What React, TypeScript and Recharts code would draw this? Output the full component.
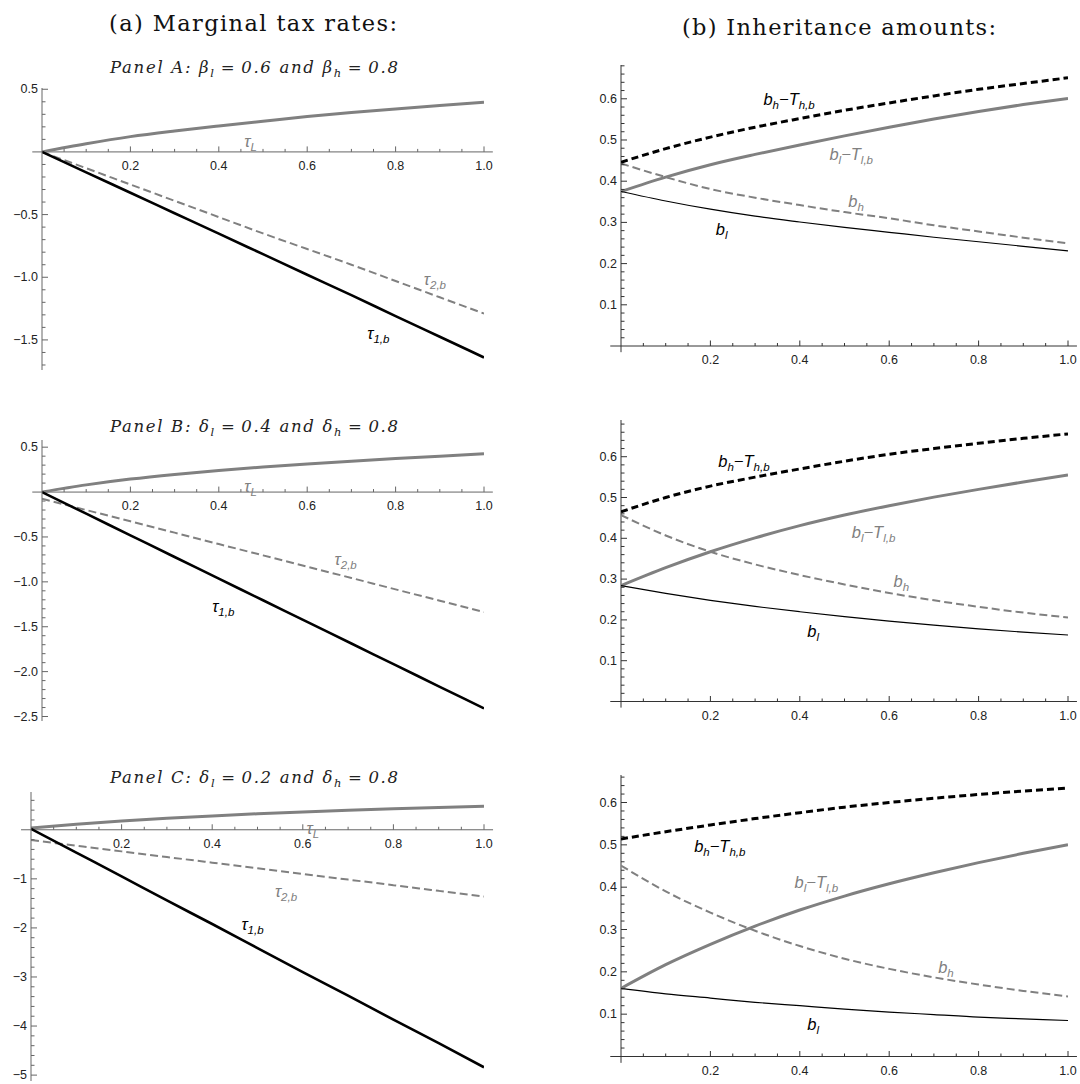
import React from 'react';
import { LineChart, Line, XAxis, YAxis, ReferenceLine, ReferenceDot } from 'recharts';

// shared grid of the parameter on the horizontal axis
const xGrid = [0, 0.1, 0.2, 0.3, 0.4, 0.5, 0.6, 0.7, 0.8, 0.9, 1.0];

// (a) marginal tax rates, panel A
const tauL_A = [0, 0.065, 0.122, 0.167, 0.207, 0.245, 0.282, 0.314, 0.343, 0.371, 0.397];
const tau1_A = [0, -0.163, -0.326, -0.489, -0.652, -0.816, -0.98, -1.143, -1.31, -1.475, -1.64];
const tau2_A = [0, -0.13, -0.26, -0.39, -0.52, -0.65, -0.775, -0.9, -1.03, -1.16, -1.29];

// panel B
const tauL_B = [0, 0.08, 0.145, 0.197, 0.241, 0.279, 0.313, 0.344, 0.373, 0.4, 0.427];
const tau1_B = [0, -0.241, -0.482, -0.723, -0.964, -1.205, -1.446, -1.687, -1.928, -2.169, -2.41];
const tau2_B = [-0.074, -0.2, -0.326, -0.452, -0.579, -0.705, -0.831, -0.957, -1.084, -1.21, -1.336];

// panel C
const tauL_C = [0.035, 0.115, 0.18, 0.235, 0.283, 0.326, 0.364, 0.398, 0.428, 0.455, 0.48];
const tau1_C = [0.02, -0.465, -0.95, -1.44, -1.92, -2.41, -2.9, -3.38, -3.87, -4.35, -4.84];
const tau2_C = [-0.21, -0.325, -0.44, -0.555, -0.67, -0.785, -0.9, -1.015, -1.13, -1.245, -1.36];

// (b) inheritance amounts, panel A
const bhT_A = [0.446, 0.479, 0.507, 0.531, 0.552, 0.572, 0.59, 0.607, 0.623, 0.637, 0.651];
const blT_A = [0.375, 0.41, 0.44, 0.465, 0.488, 0.51, 0.531, 0.551, 0.569, 0.586, 0.601];
const bh_A = [0.443, 0.41, 0.381, 0.36, 0.342, 0.325, 0.31, 0.293, 0.278, 0.263, 0.249];
const bl_A = [0.375, 0.352, 0.332, 0.315, 0.301, 0.288, 0.276, 0.264, 0.253, 0.242, 0.231];

// panel B
const bhT_B = [0.465, 0.5, 0.528, 0.55, 0.57, 0.589, 0.606, 0.62, 0.633, 0.645, 0.656];
const blT_B = [0.284, 0.328, 0.367, 0.401, 0.431, 0.457, 0.48, 0.501, 0.52, 0.538, 0.555];
const bh_B = [0.457, 0.407, 0.367, 0.336, 0.31, 0.287, 0.266, 0.248, 0.232, 0.218, 0.206];
const bl_B = [0.284, 0.265, 0.248, 0.233, 0.22, 0.208, 0.197, 0.187, 0.178, 0.17, 0.163];

// panel C
const bhT_C = [0.514, 0.531, 0.547, 0.562, 0.576, 0.589, 0.6, 0.61, 0.619, 0.627, 0.634];
const blT_C = [0.161, 0.217, 0.265, 0.308, 0.346, 0.379, 0.408, 0.434, 0.458, 0.48, 0.5];
const bh_C = [0.451, 0.39, 0.34, 0.297, 0.261, 0.231, 0.207, 0.187, 0.17, 0.155, 0.142];
const bl_C = [0.161, 0.148, 0.138, 0.128, 0.12, 0.112, 0.105, 0.099, 0.093, 0.089, 0.085];

// tick labels
const xMajor = [0.2, 0.4, 0.6, 0.8, 1.0];
const rateMajorAB = [-2.5, -2, -1.5, -1, -0.5, 0.5];
const rateMajorC = [-5, -4, -3, -2, -1];
const amountMajor = [0.1, 0.2, 0.3, 0.4, 0.5, 0.6];

const GRAY = '#808080';
const AXIS_L = '#666';
const AXIS_R = '#333';
const SANS = '"Liberation Sans", Arial, sans-serif';
const SERIF = '"DejaVu Serif", serif';

const steps = (from: number, to: number, step: number) => {
  const out: number[] = [];
  const n = Math.round((to - from) / step);
  for (let i = 0; i <= n; i++) out.push(+(from + i * step).toFixed(4));
  return out;
};
const xMinor = steps(0.05, 1, 0.05);
const isMajor = (v: number, majors: number[]) => majors.some((m) => Math.abs(m - v) < 1e-6);
const fmt = (v: number, digits: number) => (v < 0 ? '\u2212' : '') + Math.abs(v).toFixed(digits);

type Part = [string, boolean];
type Note = { x: number; y: number; parts: Part[]; color: string };

const tau = (sub: string): Part[] => [['τ', false], [sub, true]];
const bhT: Part[] = [['b', false], ['h', true], ['\u2212T', false], ['h,b', true]];
const blT: Part[] = [['b', false], ['l', true], ['\u2212T', false], ['l,b', true]];
const bh: Part[] = [['b', false], ['h', true]];
const bl: Part[] = [['b', false], ['l', true]];

function CurveLabel({ cx, cy, parts, color }: { cx: number; cy: number; parts: Part[]; color: string }) {
  const size = 16.5;
  let sub = false;
  return (
    <text x={cx} y={cy + 5} textAnchor="middle" fontFamily={SANS} fontStyle="italic" fontSize={size} fill={color}>
      {parts.map(([t, isSub], i) => {
        const dy = isSub === sub ? 0 : isSub ? 4 : -4;
        sub = isSub;
        return (
          <tspan key={i} dy={dy} fontSize={isSub ? 11.5 : size}>
            {t}
          </tspan>
        );
      })}
    </text>
  );
}

function LeftTick(p: any) {
  const v = p.payload.value;
  const major = isMajor(v, p.majors);
  return (
    <g>
      <line x1={p.x} y1={p.y} x2={p.x + (major ? 6 : 3.5)} y2={p.y} stroke={p.color} strokeWidth={1} />
      {major && (
        <text x={p.x - 4} y={p.y + 4} textAnchor="end" fontFamily={SANS} fontSize={12.5} fill="#222">
          {fmt(v, p.digits)}
        </text>
      )}
    </g>
  );
}

function BottomTick(p: any) {
  const v = p.payload.value;
  const major = isMajor(v, xMajor);
  return (
    <g>
      <line x1={p.x} y1={p.y} x2={p.x} y2={p.y - (major ? 5.5 : 3)} stroke={p.color} strokeWidth={1} />
      {major && (
        <text x={p.x} y={p.y + 18} textAnchor="middle" fontFamily={SANS} fontSize={12.5} fill="#222">
          {v.toFixed(1)}
        </text>
      )}
    </g>
  );
}

function noteDots(notes: Note[]) {
  return notes.map((n, i) => (
    <ReferenceDot
      key={'n' + i}
      x={n.x}
      y={n.y}
      r={0}
      ifOverflow="visible"
      shape={(p: any) => <CurveLabel cx={p.cx} cy={p.cy} parts={n.parts} color={n.color} />}
    />
  ));
}

type RatesProps = {
  top: number;
  left: number;
  plotH: number;
  domain: [number, number];
  tauL: number[];
  tau1: number[];
  tau2: number[];
  yMinor: number[];
  yMajor: number[];
  digits: number;
  notes: Note[];
};

function RatesPanel({ top, left, plotH, domain, tauL, tau1, tau2, yMinor, yMajor, digits, notes }: RatesProps) {
  const plotW = 484 - left;
  const rows = xGrid.map((x, i) => ({ x, tauL: tauL[i], tau1: tau1[i], tau2: tau2[i] }));
  return (
    <div style={{ position: 'absolute', left: 0, top: top - 10 }}>
      <LineChart width={left + plotW + 22} height={plotH + 20} data={rows} margin={{ top: 10, right: 22, bottom: 10, left: 0 }}>
        <XAxis dataKey="x" type="number" domain={[0, 1]} allowDataOverflow hide />
        <YAxis
          type="number"
          domain={domain}
          allowDataOverflow
          width={left}
          ticks={yMinor}
          interval={0}
          tickSize={0}
          tickMargin={0}
          tickLine={false}
          axisLine={{ stroke: AXIS_L }}
          tick={(p: any) => <LeftTick {...p} majors={yMajor} digits={digits} color={AXIS_L} />}
        />
        <ReferenceLine segment={[{ x: -0.022, y: 0 }, { x: 1.02, y: 0 }]} stroke={AXIS_L} ifOverflow="visible" />
        {xMinor.map((t) => (
          <ReferenceDot
            key={'t' + t}
            x={t}
            y={0}
            r={0}
            ifOverflow="visible"
            shape={(p: any) => <BottomTick x={p.cx} y={p.cy} payload={{ value: t }} color={AXIS_L} />}
          />
        ))}
        <Line type="monotone" dataKey="tauL" stroke={GRAY} strokeWidth={3} dot={false} activeDot={false} isAnimationActive={false} />
        <Line type="monotone" dataKey="tau2" stroke={GRAY} strokeWidth={2} strokeDasharray="8 4" dot={false} activeDot={false} isAnimationActive={false} />
        <Line type="monotone" dataKey="tau1" stroke="#000" strokeWidth={2.6} dot={false} activeDot={false} isAnimationActive={false} />
        {noteDots(notes)}
      </LineChart>
    </div>
  );
}

type AmountProps = {
  top: number;
  plotH: number;
  yTop: number;
  bhT: number[];
  blT: number[];
  bh: number[];
  bl: number[];
  notes: Note[];
};

function AmountPanel({ top, plotH, yTop, bhT, blT, bh, bl, notes }: AmountProps) {
  const yAxisW = 40;
  const plotW = 447;
  const rows = xGrid.map((x, i) => ({ x, bhT: bhT[i], blT: blT[i], bh: bh[i], bl: bl[i] }));
  const yMinor = steps(0.02, Math.floor(yTop / 0.02 + 1e-6) * 0.02, 0.02);
  return (
    <div style={{ position: 'absolute', left: 621 - yAxisW, top: top - 10 }}>
      <LineChart width={yAxisW + plotW + 12} height={plotH + 40} data={rows} margin={{ top: 10, right: 12, bottom: 0, left: 0 }}>
        <XAxis
          dataKey="x"
          type="number"
          domain={[0, 1]}
          allowDataOverflow
          ticks={xMinor}
          interval={0}
          height={30}
          tickSize={0}
          tickMargin={0}
          tickLine={false}
          axisLine={false}
          tick={(p: any) => <BottomTick {...p} color={AXIS_R} />}
        />
        <YAxis
          type="number"
          domain={[0, yTop]}
          allowDataOverflow
          width={yAxisW}
          ticks={yMinor}
          interval={0}
          tickSize={0}
          tickMargin={0}
          tickLine={false}
          axisLine={false}
          tick={(p: any) => <LeftTick {...p} majors={amountMajor} digits={1} color={AXIS_R} />}
        />
        <ReferenceLine segment={[{ x: -0.024, y: 0 }, { x: 1.02, y: 0 }]} stroke={AXIS_R} ifOverflow="visible" />
        <ReferenceLine segment={[{ x: 0, y: -0.015 }, { x: 0, y: yTop }]} stroke={AXIS_R} ifOverflow="visible" />
        <Line type="monotone" dataKey="bh" stroke={GRAY} strokeWidth={2} strokeDasharray="8 4" dot={false} activeDot={false} isAnimationActive={false} />
        <Line type="monotone" dataKey="blT" stroke={GRAY} strokeWidth={3} dot={false} activeDot={false} isAnimationActive={false} />
        <Line type="monotone" dataKey="bl" stroke="#000" strokeWidth={1.2} dot={false} activeDot={false} isAnimationActive={false} />
        <Line type="monotone" dataKey="bhT" stroke="#000" strokeWidth={3} strokeDasharray="7 4" dot={false} activeDot={false} isAnimationActive={false} />
        {noteDots(notes)}
      </LineChart>
    </div>
  );
}

function Subtitle({ x, y, name, sym, lo, hi }: { x: number; y: number; name: string; sym: string; lo: string; hi: string }) {
  return (
    <text x={x} y={y} textAnchor="middle" fontFamily={SERIF} fontStyle="italic" fontSize={16.5} textLength={288} lengthAdjust="spacing" fill="#222">
      {`Panel ${name}: ${sym}`}
      <tspan dy={4} fontSize={11.5}>l</tspan>
      <tspan dy={-4}>{`\u2009=\u2009${lo} and ${sym}`}</tspan>
      <tspan dy={4} fontSize={11.5}>h</tspan>
      <tspan dy={-4}>{`\u2009=\u2009${hi}`}</tspan>
    </text>
  );
}

export default function App() {
  return (
    <div style={{ position: 'absolute', left: 0, top: 0, width: 1080, height: 1084, background: '#fff', overflow: 'hidden' }}>
      <RatesPanel
        top={88}
        left={42}
        plotH={282}
        domain={[-1.74, 0.51]}
        tauL={tauL_A}
        tau1={tau1_A}
        tau2={tau2_A}
        yMinor={steps(-1.7, 0.5, 0.1).filter((v) => v !== 0)}
        yMajor={rateMajorAB}
        digits={1}
        notes={[
          { x: 0.472, y: 0.082, parts: tau('L'), color: GRAY },
          { x: 0.889, y: -1.02, parts: tau('2,b'), color: GRAY },
          { x: 0.761, y: -1.45, parts: tau('1,b'), color: '#000' },
        ]}
      />
      <RatesPanel
        top={440}
        left={42}
        plotH={281}
        domain={[-2.55, 0.58]}
        tauL={tauL_B}
        tau1={tau1_B}
        tau2={tau2_B}
        yMinor={steps(-2.5, 0.5, 0.1).filter((v) => v !== 0)}
        yMajor={rateMajorAB}
        digits={1}
        notes={[
          { x: 0.472, y: 0.056, parts: tau('L'), color: GRAY },
          { x: 0.687, y: -0.76, parts: tau('2,b'), color: GRAY },
          { x: 0.41, y: -1.28, parts: tau('1,b'), color: '#000' },
        ]}
      />
      <RatesPanel
        top={792}
        left={31}
        plotH={289}
        domain={[-5.12, 0.77]}
        tauL={tauL_C}
        tau1={tau1_C}
        tau2={tau2_C}
        yMinor={steps(-5, 0.6, 0.2).filter((v) => v !== 0)}
        yMajor={rateMajorC}
        digits={0}
        notes={[
          { x: 0.622, y: 0.02, parts: tau('L'), color: GRAY },
          { x: 0.563, y: -1.27, parts: tau('2,b'), color: GRAY },
          { x: 0.489, y: -1.95, parts: tau('1,b'), color: '#000' },
        ]}
      />
      <AmountPanel
        top={65}
        plotH={281}
        yTop={0.682}
        bhT={bhT_A}
        blT={blT_A}
        bh={bh_A}
        bl={bl_A}
        notes={[
          { x: 0.376, y: 0.597, parts: bhT, color: '#000' },
          { x: 0.515, y: 0.464, parts: blT, color: GRAY },
          { x: 0.526, y: 0.35, parts: bh, color: GRAY },
          { x: 0.225, y: 0.282, parts: bl, color: '#000' },
        ]}
      />
      <AmountPanel
        top={420}
        plotH={281.5}
        yTop={0.69}
        bhT={bhT_B}
        blT={blT_B}
        bh={bh_B}
        bl={bl_B}
        notes={[
          { x: 0.275, y: 0.587, parts: bhT, color: '#000' },
          { x: 0.565, y: 0.412, parts: blT, color: GRAY },
          { x: 0.627, y: 0.294, parts: bh, color: GRAY },
          { x: 0.43, y: 0.171, parts: bl, color: '#000' },
        ]}
      />
      <AmountPanel
        top={775}
        plotH={281.5}
        yTop={0.665}
        bhT={bhT_C}
        blT={blT_C}
        bh={bh_C}
        bl={bl_C}
        notes={[
          { x: 0.221, y: 0.495, parts: bhT, color: '#000' },
          { x: 0.437, y: 0.41, parts: blT, color: GRAY },
          { x: 0.727, y: 0.209, parts: bh, color: GRAY },
          { x: 0.43, y: 0.074, parts: bl, color: '#000' },
        ]}
      />
      <svg width={1080} height={1084} style={{ position: 'absolute', left: 0, top: 0, pointerEvents: 'none' }}>
        <text x={253} y={31} textAnchor="middle" fontFamily={SERIF} fontSize={22.5} textLength={288} lengthAdjust="spacing" fill="#111">
          (a) Marginal tax rates:
        </text>
        <text x={839} y={35} textAnchor="middle" fontFamily={SERIF} fontSize={22.5} textLength={314} lengthAdjust="spacing" fill="#111">
          (b) Inheritance amounts:
        </text>
        <Subtitle x={254} y={73} name="A" sym="β" lo="0.6" hi="0.8" />
        <Subtitle x={254} y={432} name="B" sym="δ" lo="0.4" hi="0.8" />
        <Subtitle x={254} y={783} name="C" sym="δ" lo="0.2" hi="0.8" />
      </svg>
    </div>
  );
}
